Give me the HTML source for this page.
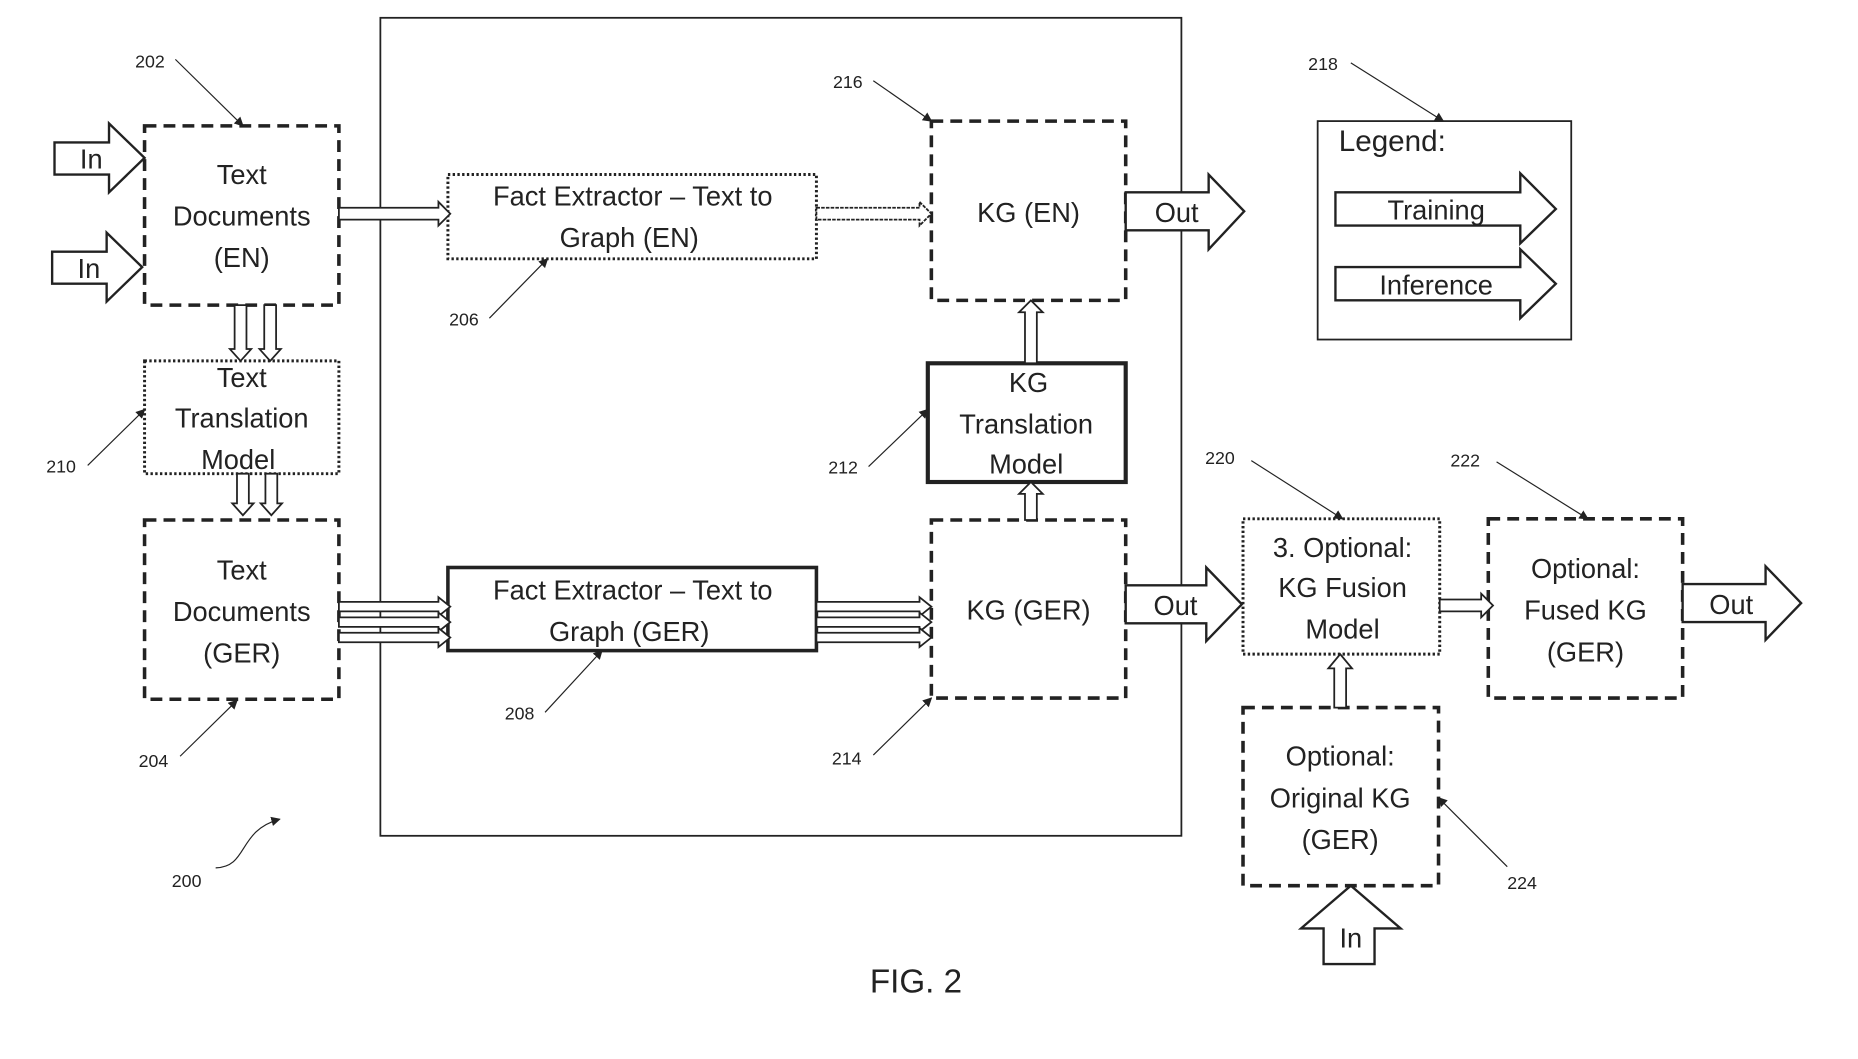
<!DOCTYPE html>
<html><head><meta charset="utf-8"><style>
html,body{margin:0;padding:0;background:#fff;}
svg{display:block;}
text{font-family:"Liberation Sans",sans-serif;fill:#222;}
.t{font-size:23px;text-anchor:middle;}
.n{font-size:15px;}
</style></head><body>
<svg width="1858" height="1059" viewBox="0 0 1568 892" preserveAspectRatio="none" xmlns="http://www.w3.org/2000/svg">
<defs>
<marker id="ah" markerWidth="8" markerHeight="8" refX="7" refY="4" orient="auto" markerUnits="userSpaceOnUse"><path d="M0,0 L8,4 L0,8 z" fill="#222"/></marker>
</defs>
<g fill="none" stroke="#222">
<rect x="321" y="15" width="676" height="689" stroke-width="1.5"/>
<rect x="122" y="106" width="164" height="151" stroke-width="3" stroke-dasharray="10,6"/>
<rect x="122" y="304" width="164" height="95" stroke-width="2.5" stroke-dasharray="2,2"/>
<rect x="122" y="438" width="164" height="151" stroke-width="3" stroke-dasharray="10,6"/>
<rect x="378" y="147" width="311" height="71" stroke-width="2.5" stroke-dasharray="2,2"/>
<rect x="378" y="478" width="311" height="70" stroke-width="3"/>
<rect x="786" y="102" width="164" height="151" stroke-width="3" stroke-dasharray="10,6"/>
<rect x="783" y="306" width="167" height="100" stroke-width="3.5"/>
<rect x="786" y="438" width="164" height="150" stroke-width="3" stroke-dasharray="10,6"/>
<rect x="1112" y="102" width="214" height="184" stroke-width="1.5"/>
<rect x="1049" y="437" width="166" height="114" stroke-width="2.5" stroke-dasharray="2,2"/>
<rect x="1256" y="437" width="164" height="151" stroke-width="3" stroke-dasharray="10,6"/>
<rect x="1049" y="596" width="165" height="150" stroke-width="3" stroke-dasharray="10,6"/>
<g stroke-width="2" fill="#fff">
<path d="M46,120 H92 V104 L122,133 L92,162 V147 H46 z"/>
<path d="M44,212 H90 V196 L120,225 L90,254 V239 H44 z"/>
<path d="M950,162 H1020 V147 L1050,178 L1020,210 V194 H950 z"/>
<path d="M950,493 H1018 V478 L1048,509 L1018,540 V525 H950 z"/>
<path d="M1420,492 H1490 V477 L1520,508 L1490,539 V524 H1420 z"/>
<path d="M1127,162 H1283 V146 L1313,176 L1283,205 V190 H1127 z"/>
<path d="M1127,225 H1283 V210 L1313,239 L1283,268 V253 H1127 z"/>
<path d="M1117,812 V782 H1098 L1140,746 L1182,782 H1160 V812 z"/>
</g>
<g stroke-width="1.5" fill="#fff">
<path d="M286,175 H370 V170 L380,180 L370,190 V185 H286 z"/>
<path d="M689,175 H776 V170 L786,180 L776,190 V185 H689 z" stroke-dasharray="3,1"/>
<path d="M286,507 H370 V503 L380,511 L370,519 V515 H286 z"/>
<path d="M286,520 H370 V516 L380,524 L370,532 V528 H286 z"/>
<path d="M286,533 H370 V529 L380,537 L370,545 V541 H286 z"/>
<path d="M689,507 H776 V503 L786,511 L776,519 V515 H689 z"/>
<path d="M689,520 H776 V516 L786,524 L776,532 V528 H689 z"/>
<path d="M689,533 H776 V529 L786,537 L776,545 V541 H689 z"/>
<path d="M1215,505 H1250 V500 L1260,510 L1250,520 V515 H1215 z"/>
<path d="M198,257 V294 H194 L203,304 L212,294 H208 V257 z"/>
<path d="M223,257 V294 H219 L228,304 L237,294 H233 V257 z"/>
<path d="M200,399 V424 H196 L205,434 L214,424 H210 V399 z"/>
<path d="M224,399 V424 H220 L229,434 L238,424 H234 V399 z"/>
<path d="M865,306 V263 H860 L870,253 L880,263 H875 V306 z"/>
<path d="M865,438 V416 H860 L870,406 L880,416 H875 V438 z"/>
<path d="M1126,596 V563 H1121 L1131,551 L1141,563 H1136 V596 z"/>
</g>
<g stroke-width="1" marker-end="url(#ah)">
<path d="M148,50 L205,106"/>
<path d="M737,68 L786,102"/>
<path d="M1140,53 L1218,102"/>
<path d="M413,268 L462,218"/>
<path d="M74,392 L122,345"/>
<path d="M733,393 L783,345"/>
<path d="M1056,388 L1133,437"/>
<path d="M1263,389 L1340,437"/>
<path d="M152,637 L200,590"/>
<path d="M460,600 L508,548"/>
<path d="M737,636 L786,588"/>
<path d="M1272,730 L1214,672"/>
<path d="M182,731 C210,730 200,700 236,690"/>
</g>
</g>
<g class="t">
<text x="204" y="155">Text</text><text x="204" y="190">Documents</text><text x="204" y="225">(EN)</text>
<text x="204" y="326">Text</text><text x="204" y="360">Translation</text><text x="201" y="395">Model</text>
<text x="204" y="488">Text</text><text x="204" y="523">Documents</text><text x="204" y="558">(GER)</text>
<text x="534" y="173">Fact Extractor – Text to</text><text x="531" y="208">Graph (EN)</text>
<text x="534" y="505">Fact Extractor – Text to</text><text x="531" y="540">Graph (GER)</text>
<text x="868" y="187">KG (EN)</text>
<text x="868" y="330">KG</text><text x="866" y="365">Translation</text><text x="866" y="399">Model</text>
<text x="868" y="522">KG (GER)</text>
<text x="1133" y="469">3. Optional:</text><text x="1133" y="503">KG Fusion</text><text x="1133" y="538">Model</text>
<text x="1338" y="487">Optional:</text><text x="1338" y="522">Fused KG</text><text x="1338" y="557">(GER)</text>
<text x="1131" y="645">Optional:</text><text x="1131" y="680">Original KG</text><text x="1131" y="715">(GER)</text>
<text x="77" y="142">In</text><text x="75" y="234">In</text>
<text x="993" y="187">Out</text><text x="992" y="518">Out</text><text x="1461" y="517">Out</text>
<text x="1140" y="798">In</text>
<text x="1212" y="185">Training</text><text x="1212" y="248">Inference</text>
<text x="1175" y="127" font-size="25">Legend:</text>
<text x="773" y="836" font-size="28">FIG. 2</text>
</g>
<g class="n">
<text x="114" y="57">202</text><text x="703" y="74">216</text><text x="1104" y="59">218</text>
<text x="379" y="274">206</text><text x="39" y="398">210</text><text x="699" y="399">212</text>
<text x="1017" y="391">220</text><text x="1224" y="393">222</text><text x="117" y="646">204</text>
<text x="426" y="606">208</text><text x="702" y="644">214</text><text x="1272" y="749">224</text>
<text x="145" y="747">200</text>
</g>
</svg>
</body></html>
